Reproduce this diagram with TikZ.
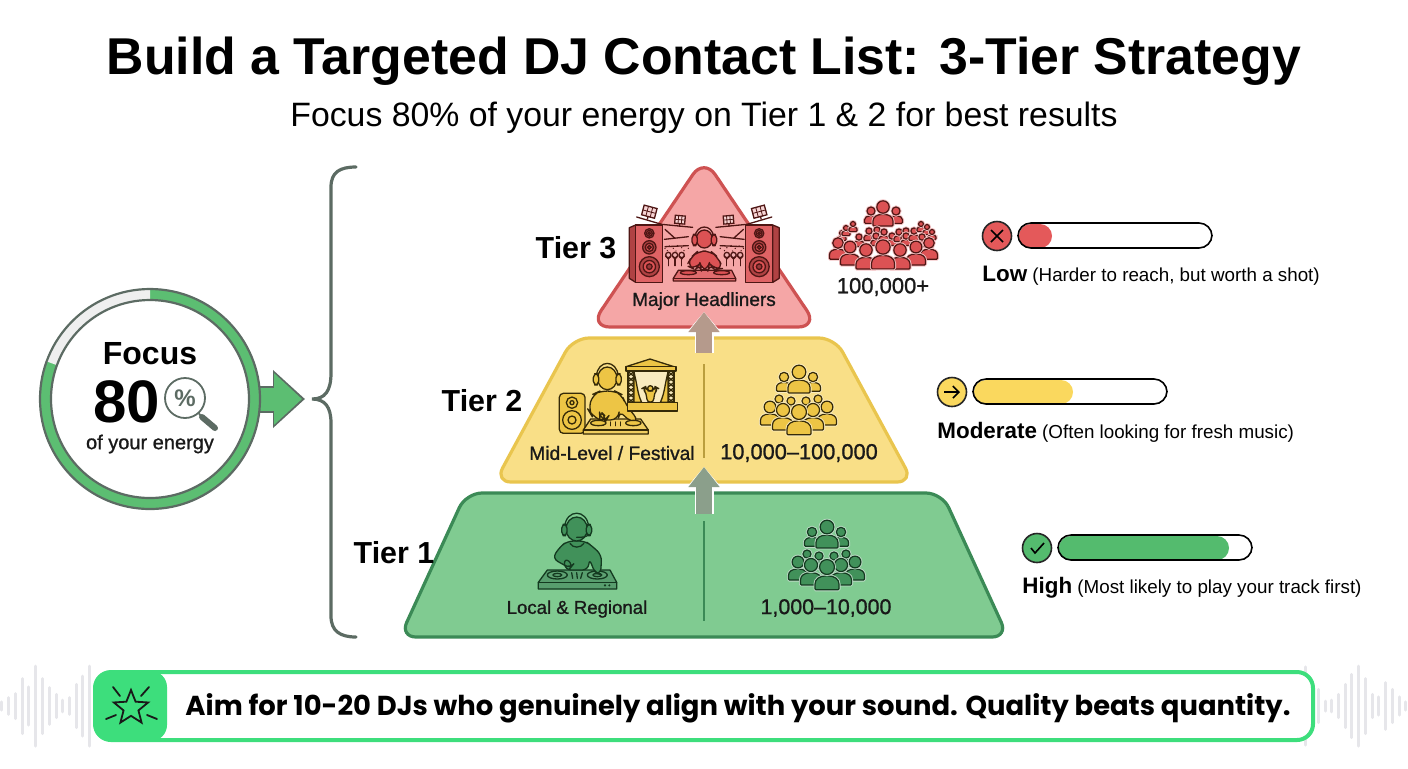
\documentclass[tikz,border=0pt]{standalone}
\usepackage{fontspec}
\setmainfont{Liberation Sans}
\newfontfamily\medfont{Liberation Sans}[FakeBold=1.0]
\newfontfamily\banfont{Poppins}
\usepackage{tikz}
\usetikzlibrary{arrows.meta,shapes.geometric}

\definecolor{redfill}{HTML}{F5A6A6}
\definecolor{redline}{HTML}{CE5252}
\definecolor{redico}{HTML}{DC5254}
\definecolor{redink}{HTML}{4E1614}
\definecolor{yelfill}{HTML}{F9DF87}
\definecolor{yelline}{HTML}{E9C54E}
\definecolor{yelico}{HTML}{EDC545}
\definecolor{yelink}{HTML}{352A08}
\definecolor{grnfill}{HTML}{80CB91}
\definecolor{grnline}{HTML}{3B8A56}
\definecolor{grnico}{HTML}{41915A}
\definecolor{grnink}{HTML}{143A20}
\definecolor{ringgreen}{HTML}{5CBE72}
\definecolor{ringgrey}{HTML}{EFEFEF}
\definecolor{ringline}{HTML}{5C6B63}
\definecolor{banner}{HTML}{3DDE7C}
\definecolor{wavegrey}{HTML}{E6E6EA}
\definecolor{redbar}{HTML}{E4595A}
\definecolor{yelbar}{HTML}{FAD85E}
\definecolor{grnbar}{HTML}{54BB6E}
\definecolor{arrowbrown}{HTML}{B59A8C}
\definecolor{arrowgreen}{HTML}{8B9F8B}

\tikzset{
	ico/.style={draw=icoink,fill=icofill,line width=.65pt,line join=round},
	icobare/.style={draw=icoink,line width=.65pt,line cap=round},
	persona/.style={draw=icoink,fill=icofill,line width=.6pt,preaction={draw=white!65!icofill,line width=1.5pt}},
	tiertext/.style={font=\bfseries\fontsize{15.2}{18}\selectfont},
	inner/.style={font=\medfont\fontsize{9.6}{12}\selectfont,text=black!90},
	tierbox/.style={line width=1.6pt,rounded corners=8pt,line join=round},
	blockhalo/.style={draw=white,line width=9.5pt,-{Triangle[length=11pt,width=18pt]}},
	block/.style={line width=8pt,-{Triangle[length=10pt,width=15pt]}},
	statusbar/.style={rounded corners=6.5pt,line width=.8pt},
	statusico/.style={circle,draw=black!85,line width=.8pt,minimum size=14.5pt,inner sep=0pt},
	wavebar/.style={draw=wavegrey,line width=1.5pt,line cap=round},
}

\newcommand\person[3]{%
	\begin{scope}[shift={(#1,#2)},scale=#3]
	\draw[persona,rounded corners=.5pt] (-1,1.9) -- (-1,1.5) .. controls (-1,1) and (-.6,.74) .. (0,.74)
		.. controls (.6,.74) and (1,1) .. (1,1.5) -- (1,1.9) -- cycle;
	\draw[persona] (0,0) circle (.62);
	\end{scope}}
\newcommand\crowd[3]{%
	\begin{scope}[shift={(#1,#2)},scale=#3]
	\foreach \cx/\cy/\cs in {-15/-23/7.5,14/-23/7.5,0/-28/11,
		-20/-1/6.5,-8/1/6.5,7/1/6.5,19/-1/6.5,-29/7/9.5,28/7/9.5,-16/10/10.5,14/10/10.5,0/12/12}
		\person{\cx}{\cy}{\cs};
	\end{scope}}
\newcommand\djhead[4]{%
	\draw[icobare] (#1-#3-4,#2-6) .. controls (#1-#3,#2-1.7*#4) and (#1+#3,#2-1.7*#4) .. (#1+#3+4,#2-6);
	\draw[ico] (#1,#2) ellipse [x radius=#3,y radius=#4];
	\draw[ico,rounded corners=2pt] (#1-#3-13,#2-14) rectangle (#1-#3+3,#2+20);
	\draw[ico,rounded corners=2pt] (#1+#3-3,#2-14) rectangle (#1+#3+13,#2+20);}
\newcommand\lamp[5]{%
	\begin{scope}[shift={(#1,#2)},rotate=#3]
	\draw[icobare,fill=white!75!icofill] (-#4,-#5) rectangle (#4,#5);
	\draw[icobare,line width=.4pt] (-#4/3,-#5) -- (-#4/3,#5) (#4/3,-#5) -- (#4/3,#5) (-#4,0) -- (#4,0);
	\draw[icobare] (0,#5) -- (0,#5+8);
	\end{scope}}
\newcommand\stagehalf{%
	\draw[ico,fill=icofill!80!black] (28,98) -- (47,90) -- (47,262) -- (28,250) -- cycle;
	\draw[ico,fill=icofill!90!white] (47,90) rectangle (128,262);
	\foreach \sy/\sr in {115/14,157/20,215/30} {
		\draw[ico,fill=icofill!80!black] (88,\sy) circle (\sr);
		\draw[ico] (88,\sy) circle ({\sr*.62});
		\draw[icobare,fill=icofill!70!black] (88,\sy) circle ({\sr*.28});}
	\lamp{88}{50}{-15}{20}{15}
	\lamp{180}{74}{-5}{15}{12}
	\draw[icobare] (50,66) -- (125,88) -- (218,97);
	\draw[icobare] (135,103) -- (165,130) (133,133) -- (205,125);
	\draw[icobare] (135,155) -- (205,152);
	\foreach \dx/\dy in {135/160,148/153,160/160,172/152,185/158,197/152,205/160,142/167,168/168,192/167}
		\fill[icoink] (\dx,\dy) circle (2.2);
	\foreach \tx in {145,165,185} {
		\draw[icobare] (\tx,212) -- (\tx,190);
		\draw[icobare,fill=white!55!icofill] (\tx,180) circle (8);
		\draw[icobare] (\tx,192) -- (\tx-8,183) (\tx,192) -- (\tx+8,183);}
}

\begin{document}
\begin{tikzpicture}[x=.5pt,y=-.5pt]
	\useasboundingbox (0,0) rectangle (1408,768);
	% heading
	\node[font=\bfseries\fontsize{25.9}{30}\selectfont] (heading) at (704,61) {Build a Targeted DJ Contact List: 3-Tier Strategy};
	\node[font=\fontsize{16.9}{20}\selectfont] (subheading) at (704,118) {Focus 80\% of your energy on Tier 1 \& 2 for best results};

	% focus ring
	\coordinate (ringc) at (150,399);
	\coordinate (bracetip) at (312,399);
	\coordinate (arrowtip) at (305,399);
	\draw[ringline,line width=13.5pt,-{Triangle[length=16pt,width=28pt]}] (ringc) -- (arrowtip);
	\draw[ringgreen,line width=11.5pt,-{Triangle[length=14pt,width=25pt]}] (ringc) -- (302,399);
	\fill[ringgreen] (ringc) circle (110);
	\fill[ringgrey] (ringc) -- ++(200:110) arc[start angle=200,end angle=270,radius=110] -- cycle;
	\draw[ringline,line width=1.1pt] (ringc) circle (110);
	\node[circle,draw=ringline,line width=1.1pt,fill=white,minimum size=99pt,inner sep=0pt] (focus) at (ringc) {};
	\node[font=\bfseries\fontsize{16}{18}\selectfont] (focusword) at (150,354) {Focus};
	\node[font=\bfseries\fontsize{30}{32}\selectfont] (eighty) at (127,402) {80};
	\node[font=\bfseries\fontsize{12}{12}\selectfont,text=ringline,circle,draw=ringline,line width=.9pt,fill=white,minimum size=20pt,inner sep=0pt] (lens) at (185,398) {\%};
	\draw[ringline,line width=.9pt] (lens) -- (202,417);
	\draw[ringline,line width=3pt,line cap=round] (202,417) -- (215,428);
	\node[inner,font=\medfont\fontsize{10}{12}\selectfont] (energy) at (150,444) {of your energy};

	% brace
	\draw[ringline,line width=1.6pt,line cap=round]
		(356,167) .. controls (340,167) and (331,172) .. (331,187) -- (331,373)
		.. controls (331,391) and (325,399) .. (bracetip)
		.. controls (325,399) and (331,407) .. (331,423) -- (331,616)
		.. controls (331,631) and (340,637) .. (356,637);

	% tiers
	\draw[tierbox,draw=grnline,fill=grnfill] (466,493) -- (942,493) -- (1008,637) -- (400,637) -- cycle;
	\draw[tierbox,draw=yelline,fill=yelfill] (573,338) -- (835,338) -- (913,482) -- (495,482) -- cycle;
	\draw[tierbox,draw=redline,fill=redfill,rounded corners=10pt] (704,158) -- (818,327) -- (590,327) -- cycle;
	\draw[grnline,line width=.8pt] (704,521) -- (704,621);
	\draw[yelline!80!black,line width=.8pt] (704,364) -- (704,458);
	\coordinate (t1tail) at (704,514);
	\coordinate (t2tip) at (704,467);
	\coordinate (t2tail) at (704,353);
	\coordinate (t3tip) at (704,312);
	\draw[blockhalo] (t1tail) -- (t2tip);
	\draw[block,draw=arrowgreen] (t1tail) -- (t2tip);
	\draw[blockhalo] (t2tail) -- (t3tip);
	\draw[block,draw=arrowbrown] (t2tail) -- (t3tip);

	\node[tiertext] (tierthree) at (576,248) {Tier 3};
	\node[tiertext] (tiertwo) at (482,401) {Tier 2};
	\node[tiertext] (tierone) at (394,553) {Tier 1};
	\node[inner,font=\medfont\fontsize{9.5}{12}\selectfont] (headliners) at (704,301) {Major Headliners};
	\node[inner] (festival) at (612,453) {Mid-Level / Festival};
	\node[inner,font=\medfont\fontsize{10.9}{12}\selectfont] (midcount) at (799,453) {10,000–100,000};
	\node[inner,font=\medfont\fontsize{9.3}{12}\selectfont] (regional) at (577,609) {Local \& Regional};
	\node[inner,font=\medfont\fontsize{10.7}{12}\selectfont] (lowcount) at (826,608) {1,000–10,000};
	\node[inner,font=\medfont\fontsize{11}{12}\selectfont] (topcount) at (883,287) {100,000+};

	% tier 1 icons
	\colorlet{icofill}{grnico}\colorlet{icoink}{grnink}
	\crowd{827}{555}{1}
	\begin{scope}[shift={(520,505)},scale=.3333]
	\draw[ico,fill=white!12!icofill] (55,232) -- (82,195) -- (270,195) -- (290,232) -- (290,252) -- (55,252) -- cycle;
	\draw[icobare] (55,232) -- (290,232);
	\foreach \px in {112,232} {
		\draw[ico,fill=white!15!icofill] (\px,210) ellipse [x radius=30,y radius=12];
		\draw[icobare] (\px,210) ellipse [x radius=13,y radius=5];}
	\draw[icobare] (155,203) -- (158,220) (170,203) -- (172,220) (187,203) -- (182,220);
	\fill[icoink] (255,241) circle (3.5) (268,241) circle (3.5);
	\draw[ico,rounded corners=3pt] (143,108) -- (120,125) -- (97,160) -- (150,190) -- (160,178) -- (132,158)
		-- (135,195) -- (205,195) -- (208,160) -- (225,205) -- (242,208) -- (245,150) -- (215,122) -- (195,108) -- cycle;
	\draw[icobare] (150,115) .. controls (158,130) and (182,130) .. (192,115);
	\djhead{170}{72}{32}{36}
	\draw[icobare] (206,88) .. controls (200,97) and (185,97) .. (170,97);
	\end{scope}

	% tier 2 icons
	\colorlet{icofill}{yelico}\colorlet{icoink}{yelink}
	\crowd{799}{400}{1}
	\begin{scope}[shift={(550,355)},scale=.3333]
	\draw[ico,rounded corners=2pt] (28,115) rectangle (105,235);
	\draw[icobare] (66,143) circle (17) (66,143) circle (6) (66,195) circle (28) (66,195) circle (12);
	\draw[ico,fill=white!15!icofill] (100,225) -- (122,192) -- (272,192) -- (295,225) -- (295,237) -- (100,237) -- cycle;
	\draw[icobare] (100,225) -- (295,225);
	\draw[ico,rounded corners=4pt] (150,108) -- (128,118) -- (115,165) -- (125,182) -- (165,202) -- (172,190) -- (148,165)
		-- (150,195) -- (205,195) -- (208,165) -- (240,202) -- (268,200) -- (228,150) -- (215,118) -- (195,108) -- cycle;
	\foreach \px in {145,250} \draw[ico] (\px,204) ellipse [x radius=23,y radius=8];
	\foreach \px in {182,197,212} \draw[icobare] (\px,201) -- (\px,212);
	\djhead{172}{70}{29}{34}
	% stage
	\draw[ico,fill=white!65!icofill] (234,48) rectangle (372,142);
	\foreach \sy in {50,66,...,130} {
		\draw[icobare] (234,\sy) -- (252,\sy+14) (252,\sy) -- (234,\sy+14);
		\draw[icobare] (354,\sy) -- (372,\sy+14) (372,\sy) -- (354,\sy+14);}
	\draw[icobare] (252,48) -- (252,142) (354,48) -- (354,142);
	\draw[ico] (252,52) .. controls (262,90) and (262,115) .. (275,142) -- (252,142) -- cycle;
	\draw[ico] (354,52) .. controls (344,90) and (344,115) .. (331,142) -- (354,142) -- cycle;
	\draw[ico,rounded corners=2pt] (277,100) -- (290,115) -- (290,142) -- (312,142) -- (312,115) -- (325,100) -- (316,95) -- (306,108) -- (296,108) -- (286,95) -- cycle;
	\draw[ico] (301,100) circle (8);
	\draw[ico] (228,35) -- (300,12) -- (372,35) -- cycle;
	\draw[ico] (228,35) rectangle (378,48);
	\draw[ico] (232,142) rectangle (382,168);
	\end{scope}

	% tier 3 icons
	\colorlet{icofill}{redico}\colorlet{icoink}{redink}
	\begin{scope}[shift={(883,241)}]
	\foreach \cx/\cy/\cs in {-12/-30/6.5,13/-30/6.5,0/-34/10,
		-41/-8/4,-37/-13/4,-30/-17/4,-24/-4/5,-14/-10/5,-6/-11/5,-7/-5/5,1/-9/5,
		9/-5/5,16/-9/5,23/-10/5,23/-5/5,31/-10/5,38/-17/4,44/-14/4,49/-9/4,39/-4/5}
		\person{\cx}{\cy}{\cs};
	\foreach \cx/\cy/\cs in {-45/2/8.5,46/2/8.5,-33/6/9.5,33/6/9.5,-17/9/10,17/9/10,0/6/11.5}
		\person{\cx}{\cy}{\cs};
	\end{scope}
	\begin{scope}[shift={(620,195)},scale=.3333]
	\stagehalf
	\end{scope}
	\begin{scope}[shift={(788.5,195)},xscale=-.3333,yscale=.3333]
	\stagehalf
	\end{scope}
	\begin{scope}[shift={(620,195)},scale=.3333]
	\draw[ico,fill=white!15!icofill] (160,250) -- (175,226) -- (335,226) -- (347,250) -- (347,258) -- (160,258) -- cycle;
	\draw[icobare] (160,250) -- (347,250);
	\draw[ico,rounded corners=4pt] (234,168) -- (215,185) -- (200,212) -- (226,224) -- (240,205) -- (244,226) -- (264,226)
		-- (268,205) -- (284,224) -- (310,220) -- (292,185) -- (272,168) -- cycle;
	\foreach \px in {205,305} \draw[ico] (\px,233) ellipse [x radius=24,y radius=6];
	\djhead{253}{132}{24}{27}
	\end{scope}

	% reach bars
	\foreach \nm/\ix/\iy/\bcol/\bend/\lword/\ldesc in {
		low/997/236/redbar/1052/Low/{(Harder to reach, but worth a shot)},
		mod/952/392/yelbar/1073/Moderate/{(Often looking for fresh music)},
		high/1037/548/grnbar/1229/High/{(Most likely to play your track first)}} {
		\fill[\bcol,rounded corners=6pt] (\ix+22,\iy-12) rectangle (\bend,\iy+12);
		\draw[statusbar] (\ix+21,\iy-13) rectangle (\ix+215,\iy+12);
		\node[statusico,fill=\bcol] (\nm ico) at (\ix,\iy) {};
		\node[anchor=west,inner sep=0pt,font=\fontsize{9.4}{12}\selectfont] (\nm text) at (\ix-15,\iy+40)
			{{\bfseries\fontsize{11.2}{12}\selectfont\lword}\ \ldesc};
	}
	\draw[line width=.8pt] (991,230) -- (1003,242) (1003,230) -- (991,242);
	\draw[line width=.8pt,-{Straight Barb[length=3pt,width=6pt]}] (944,392) -- (960,392);
	\draw[line width=.8pt] (1031,548) -- (1035,553) -- (1044,543);

	% banner
	\foreach \wx/\wh in {5/25,25/50,47/75,66/165,86/115,106/240,127/165,147/110,168/70,188/35,208/50,228/130,248/180,268/240}
		\draw[wavebar] (\wx/3,{706-\wh/6}) -- (\wx/3,{706+\wh/6});
	\foreach \wx/\wh in {885/235,925/100,945/30,965/35,985/70,1005/130,1025/190,1046/240,1066/165,1086/70,1106/55,1127/140,1147/100,1167/55,1187/25}
		\draw[wavebar] ({1010+\wx/3},{706-\wh/6}) -- ({1010+\wx/3},{706+\wh/6});
	\draw[draw=banner,fill=white,line width=2pt,rounded corners=8pt] (95,672) rectangle (1313,740);
	\fill[banner,rounded corners=8pt] (94,671) rectangle (167,741);
	\node[star,star points=5,star point ratio=2.3,draw=black!90,line width=.9pt,minimum size=18pt,inner sep=0pt] (staricon) at (131,708) {};
	\draw[black!90,line width=.9pt,line cap=round] (113,687) -- (120,696) (149,687) -- (141,696) (106,719) -- (116,715) (157,719) -- (147,715);
	\node[font=\banfont\bfseries\fontsize{13.7}{18}\selectfont] (aim) at (738,708) {Aim for 10-20 DJs who genuinely align with your sound. Quality beats quantity.};
\end{tikzpicture}
\end{document}
